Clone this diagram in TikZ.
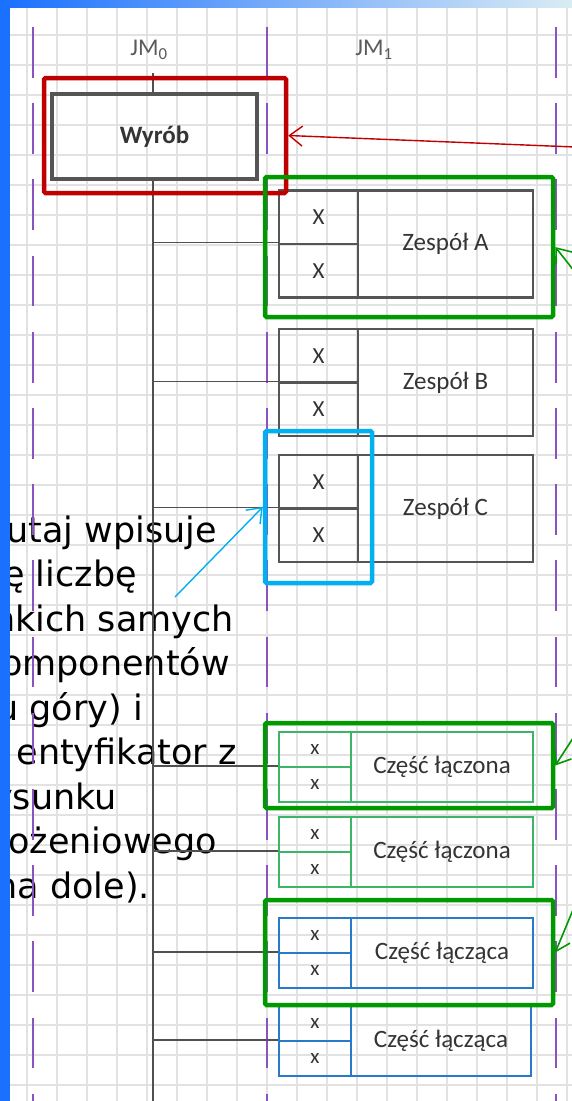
\documentclass[tikz,border=0pt]{standalone}
\usepackage{fontspec}
\usetikzlibrary{arrows.meta}
\newfontfamily\carl{Carlito}
\newfontfamily\verd{DejaVu Sans}
\definecolor{gridc}{RGB}{226,226,226}
\definecolor{purp}{RGB}{140,82,192}
\definecolor{stemgray}{RGB}{80,80,80}
\definecolor{boxgray}{RGB}{85,85,85}
\definecolor{txtgray}{RGB}{52,52,52}
\definecolor{jmgray}{RGB}{90,90,90}
\definecolor{hlred}{RGB}{192,0,0}
\definecolor{hlgreen}{RGB}{0,153,0}
\definecolor{hlcyan}{RGB}{0,176,240}
\definecolor{lgreen}{RGB}{60,182,102}
\definecolor{lblue}{RGB}{40,122,200}
\definecolor{barblue}{RGB}{26,112,255}
\definecolor{barlight}{RGB}{218,236,244}
\tikzset{
  gridline/.style={draw=gridc, line width=1.1pt},
  purpledash/.style={draw=purp, line width=2.2pt, dash pattern=on 50.7pt off 25.5pt},
  stemline/.style={draw=stemgray, line width=1.4pt},
  graycell/.style={draw=boxgray, line width=2.6pt, inner sep=0pt, minimum width=79pt, minimum height=53.5pt, text=txtgray, font=\carl\fontsize{23}{23}\selectfont},
  grayname/.style={draw=boxgray, line width=2.6pt, inner sep=0pt, minimum width=175pt, minimum height=107pt, text=txtgray, font=\carl\fontsize{25}{25}\selectfont},
  lowcell/.style={draw=#1, line width=2.2pt, inner sep=0pt, minimum width=72pt, minimum height=35pt, text=txtgray, font=\carl\fontsize{21}{21}\selectfont},
  lowname/.style={draw=#1, line width=2.2pt, inner sep=0pt, minimum width=182pt, minimum height=70pt, text=txtgray, font=\carl\fontsize{25}{25}\selectfont},
  hl/.style={draw=#1, line width=4.5pt, rounded corners=1.5pt, inner sep=0pt},
  hlarrow/.style={draw=#1, line width=1.6pt, -{Straight Barb[length=13pt,width=20pt]}},
  jmlabel/.style={text=jmgray, font=\carl\fontsize{24}{24}\selectfont, inner sep=0pt},
  lefttext/.style={text=black, font=\verd\fontsize{35}{44}\selectfont, inner sep=0pt, anchor=base east}
}
\begin{document}
\begin{tikzpicture}[x=1pt,y=-1pt]
\useasboundingbox (0,0) rectangle (572,1101);
\fill[white] (0,0) rectangle (572,1101);
% grid
\foreach \gx in {27,57,...,567} \draw[gridline] (\gx,7) -- (\gx,1101);
\foreach \gy in {35,65,...,1085} \draw[gridline] (10,\gy) -- (572,\gy);
% explanatory text (cut at the left edge)
\node[lefttext] (t1) at (217,542) {utaj wpisuje};
\node[lefttext] (t2) at (137,586.5) {ę liczbę};
\node[lefttext] (t3) at (234,631) {nkich samych};
\node[lefttext] (t4) at (230,675.5) {omponentów};
\node[lefttext] (t5) at (143,720) {u góry) i};
\node[lefttext] (t6) at (237,764.5) {entyfikator z};
\node[lefttext] (t7) at (117,809) {ysunku};
\node[lefttext] (t8) at (217,853.5) {ożeniowego};
\node[lefttext] (t9) at (150,898) {na dole).};
% purple dashed separators
\draw[purpledash] (33,27) -- (33,1101);
\draw[purpledash] (267,27) -- (267,1101);
\draw[purpledash] (556,27) -- (556,1101);
% level labels
\node[jmlabel] (jm0) at (149,50) {JM\textsubscript{0}};
\node[jmlabel] (jm1) at (374,50) {JM\textsubscript{1}};
% product
\node[draw=boxgray, line width=3.2pt, minimum width=205pt, minimum height=85pt, inner sep=0pt,
      text=txtgray, font=\carl\bfseries\fontsize{25}{25}\selectfont] (wyrob) at (154.5,136.5) {Wyrób};
\coordinate (stemtop) at (153,73);
\coordinate (stembot) at (153,1101);
\draw[stemline] (stemtop) -- (stemtop |- wyrob.north);
\draw[stemline] (stemtop |- wyrob.south) -- (stembot);
% Zespol A
\node[graycell] (a1) at (318.5,217.25) {X};
\node[graycell] (a2) at (318.5,270.75) {X};
\node[grayname] (an) at (445.5,244) {Zespół A};
% Zespol B
\node[graycell] (b1) at (318.5,355.75) {X};
\node[graycell] (b2) at (318.5,409.25) {X};
\node[grayname] (bn) at (445.5,382.5) {Zespół B};
% Zespol C
\node[graycell] (c1) at (318.5,481.75) {X};
\node[graycell] (c2) at (318.5,535.25) {X};
\node[grayname] (cn) at (445.5,508.5) {Zespół C};
% Czesc laczona 1
\node[lowcell=lgreen] (d1) at (315,749.5) {x};
\node[lowcell=lgreen] (d2) at (315,784.5) {x};
\node[lowname=lgreen] (dn) at (442,767) {Część łączona};
% Czesc laczona 2
\node[lowcell=lgreen] (e1) at (315,834.5) {x};
\node[lowcell=lgreen] (e2) at (315,869.5) {x};
\node[lowname=lgreen] (en) at (442,852) {Część łączona};
% Czesc laczaca 1
\node[lowcell=lblue] (f1) at (315,935.5) {x};
\node[lowcell=lblue] (f2) at (315,970.5) {x};
\node[lowname=lblue] (fn) at (442,953) {Część łącząca};
% Czesc laczaca 2
\node[lowcell=lblue] (g1) at (315,1023.5) {x};
\node[lowcell=lblue] (g2) at (315,1058.5) {x};
\node[lowname=lblue, minimum width=180pt] (gn) at (441,1041) {Część łącząca};
% connectors from the stem
\foreach \n in {a2,b2,c2,d2,e2,f2,g2}
  \draw[stemline] (stemtop |- \n.north west) -- (\n.north west);
% highlight frames
\node[hl=hlred, minimum width=242pt, minimum height=115pt] (redbox) at (165,135.5) {};
\node[hl=hlgreen, minimum width=288pt, minimum height=140pt] (greenA) at (409,247) {};
\node[hl=hlcyan, minimum width=107pt, minimum height=152pt] (cyanbox) at (318.5,507) {};
\node[hl=hlgreen, minimum width=288pt, minimum height=85pt] (green1) at (409,765.5) {};
\node[hl=hlgreen, minimum width=288pt, minimum height=105pt] (green2) at (409,952.5) {};
% pointer arrows
\coordinate (redsrc) at (575,147);
\coordinate (gAsrc) at (575,272);
\coordinate (g1src) at (575,735);
\coordinate (g2src) at (575,905);
\coordinate (cysrc) at (175,597);
\draw[hlarrow=hlred, line width=1.4pt] (redsrc) -- (redbox.east);
\draw[hlarrow=hlgreen] (gAsrc) -- (greenA.east);
\draw[hlarrow=hlgreen] (g1src) -- (green1.east);
\draw[hlarrow=hlgreen] (g2src) -- (green2.east);
\draw[hlarrow=hlcyan, line width=1.4pt] (cysrc) -- (cyanbox.west);
% slide bars
\fill[barblue] (0,0) rectangle (10,1101);
\shade[left color=barblue, right color=barlight] (0,0) rectangle (572,7);
\end{tikzpicture}
\end{document}
